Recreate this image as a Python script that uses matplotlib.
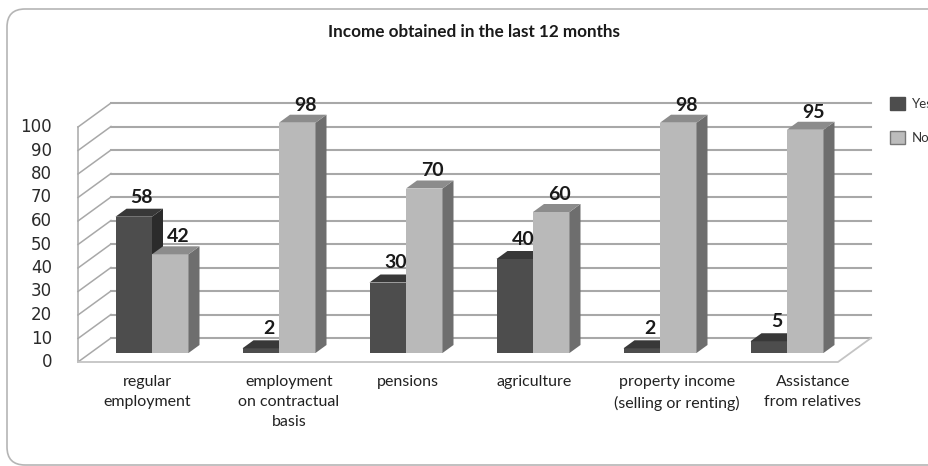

# Income chart, fake 3D column look drawn with plain matplotlib patches
import matplotlib
matplotlib.use('Agg')
import matplotlib.pyplot as plt
from matplotlib.patches import Polygon, FancyBboxPatch

categories = ['regular\nemployment', 'employment\non contractual\nbasis', 'pensions',
	'agriculture', 'property income\n(selling or renting)', 'Assistance\nfrom relatives']
yes_values = [58, 2, 30, 40, 2, 5]
no_values = [42, 98, 70, 60, 98, 95]
grid_values = [0, 10, 20, 30, 40, 50, 60, 70, 80, 90, 100]
title = 'Income obtained in the last 12 months'

W, H = 929, 466
plt.rcParams['font.family'] = ['Lato', 'DejaVu Sans']

fig = plt.figure(figsize=(W / 100, H / 100), dpi=100)

# Rounded frame goes on a pixel axes, it runs off the right side of the picture
bg = fig.add_axes([0, 0, 1, 1])
bg.set_xlim(0, W)
bg.set_ylim(H, 0)
bg.axis('off')
bg.add_patch(FancyBboxPatch((7, 9), 1000, 456, boxstyle='round,pad=0,rounding_size=18',
	fc='white', ec='#b5b5b5', lw=1.2))

# Main axes: x is category number, y is the value. Scales fixed so value 0 sits on
# the bar base line and one category is 127 px wide
px_x = 127.0
px_y = 2.35
x0_px, y0_px = 152.0, 353.0
ax = fig.add_axes([0, 0, 1, 1])
ax.patch.set_alpha(0)
ax.set_xlim(-x0_px / px_x, (W - x0_px) / px_x)
ax.set_ylim((y0_px - H) / px_y, y0_px / px_y)
ax.axis('off')

bar_w = 36.5 / px_x
depth_x = 11.0 / px_x
depth_y = 8.0 / px_y

# Walls and floor (front and back planes of the box)
wall_left_front = (78 - x0_px) / px_x
wall_left_back = (111 - x0_px) / px_x
wall_right_back = (871 - x0_px) / px_x
wall_right_front = (838 - x0_px) / px_x
front_dy = -9.0 / px_y
back_dy = 15.0 / px_y
grid_c = '#a8a8a8'

for v in grid_values:
	ax.plot([wall_left_back, wall_right_back], [v + back_dy, v + back_dy], color=grid_c, lw=1.5, zorder=1)
	ax.plot([wall_left_front, wall_left_back], [v + front_dy, v + back_dy], color=grid_c, lw=1.1, zorder=1)
	ax.text((52 - x0_px) / px_x, v + front_dy, str(v), ha='right', va='center',
		fontsize=12, color='#2a2a2a', family='DejaVu Sans', zorder=5)

ax.plot([wall_left_front, wall_left_front], [front_dy, 100 + front_dy], color=grid_c, lw=1.1, zorder=1)
ax.plot([wall_left_front, wall_right_front, wall_right_back],
	[front_dy, front_dy, back_dy], color='#c4c4c4', lw=1.3, zorder=1)


def column(left, val, face, side, top):
	ax.bar(left, val, width=bar_w, align='edge', color=face, zorder=3)
	right = left + bar_w
	ax.add_patch(Polygon([(right, 0), (right + depth_x, depth_y), (right + depth_x, val + depth_y), (right, val)],
		closed=True, fc=side, ec='none', zorder=3))
	ax.add_patch(Polygon([(left, val), (left + depth_x, val + depth_y), (right + depth_x, val + depth_y), (right, val)],
		closed=True, fc=top, ec='none', zorder=3))


label_shift = 8.0 / px_x
for i in range(len(categories)):
	column(i - bar_w, yes_values[i], '#4d4d4d', '#2b2b2b', '#383838')
	column(i, no_values[i], '#b9b9b9', '#6e6e6e', '#8c8c8c')
	ax.text(i - bar_w / 2 + label_shift, yes_values[i] + depth_y + 1.3, str(yes_values[i]), ha='center', va='bottom',
		fontsize=14, fontweight='bold', color='#1a1a1a', zorder=6)
	ax.text(i + bar_w / 2 + label_shift, no_values[i] + depth_y + 0.5, str(no_values[i]), ha='center', va='bottom',
		fontsize=14, fontweight='bold', color='#1a1a1a', zorder=6)

# Category labels are not centred on the groups in the original
label_x = [147, 289, 408, 534, 677, 813]
for i in range(len(categories)):
	ax.text((label_x[i] - x0_px) / px_x, (y0_px - 375) / px_y, categories[i], ha='center', va='top',
		fontsize=11.5, color='#222222', linespacing=1.55, zorder=6)

ax.text(474 / W, 1 - 32 / H, title, transform=ax.transAxes, ha='center', va='center',
	fontsize=12.3, fontweight='bold', color='#1a1a1a')

# Legend runs off the edge of the figure the same way the reference does
yes_h = plt.Rectangle((0, 0), 1, 1, fc='#4d4d4d', ec='#4d4d4d')
no_h = plt.Rectangle((0, 0), 1, 1, fc='#bcbcbc', ec='#777777')
ax.legend([yes_h, no_h], ['Yes', 'No'], loc='upper left', bbox_to_anchor=(890 / W, 1 - 97 / H),
	frameon=False, fontsize=9.5, handlelength=1.15, handleheight=1.15, labelspacing=1.55,
	handletextpad=0.5, borderpad=0, borderaxespad=0, labelcolor='#333333')

fig.savefig('out.png', dpi=100)
